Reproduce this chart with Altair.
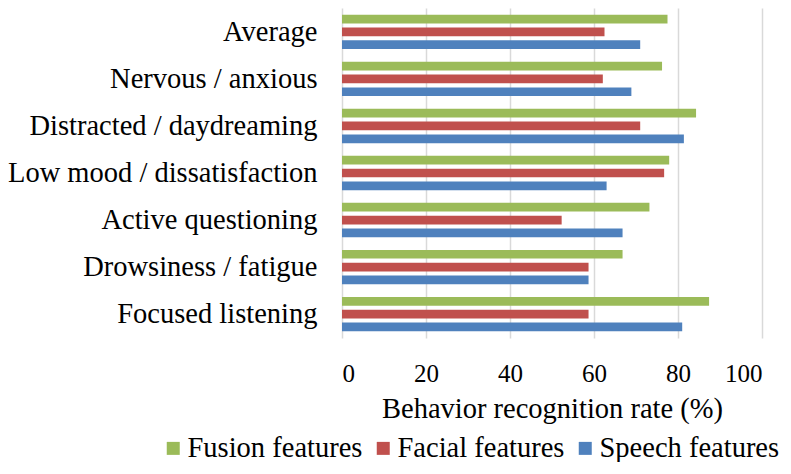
import altair as alt
import pandas as pd

categories = ["Average", "Nervous / anxious", "Distracted / daydreaming",
              "Low mood / dissatisfaction", "Active questioning",
              "Drowsiness / fatigue", "Focused listening"]
series = ["Fusion features", "Facial features", "Speech features"]
fusion = [77.5, 76.2, 84.3, 77.9, 73.2, 66.8, 87.4]
facial = [62.5, 62.1, 71.0, 76.7, 52.3, 58.7, 58.7]
speech = [71.0, 68.9, 81.4, 63.0, 66.8, 58.7, 81.0]
colors = ["#9BBB59", "#C0504D", "#4F81BD"]

rows = []
for name, vals in zip(series, [fusion, facial, speech]):
    for c, v in zip(categories, vals):
        rows.append({"Category": c, "Series": name, "Value": v})
df = pd.DataFrame(rows)

FONT = "Liberation Serif"
FS = 28.5

chart = alt.Chart(df).mark_bar().encode(
    y=alt.Y("Category:N", sort=categories,
            scale=alt.Scale(paddingInner=0.183, paddingOuter=0.1),
            axis=alt.Axis(title=None, labelFont=FONT, labelFontSize=FS,
                          labelColor="#000000", labelPadding=25, ticks=False,
                          domain=False, labelLimit=400)),
    yOffset=alt.YOffset("Series:N", sort=series,
                        scale=alt.Scale(paddingInner=0.32, paddingOuter=0.16)),
    x=alt.X("Value:Q", scale=alt.Scale(domain=[0, 100]),
            axis=alt.Axis(values=[0, 20, 40, 60, 80, 100], title="Behavior recognition rate (%)",
                          titleFont=FONT, titleFontSize=FS, titleFontWeight="normal",
                          titleColor="#000000", titlePadding=8,
                          labelFont=FONT, labelFontSize=25, labelColor="#000000",
                          labelPadding=23, ticks=False, domain=False,
                          grid=True, gridColor="#D9D9D9", gridWidth=1.5)),
    color=alt.Color("Series:N", sort=series,
                    scale=alt.Scale(domain=series, range=colors),
                    legend=alt.Legend(title=None, orient="none", direction="horizontal",
                                      legendX=-183, legendY=426,
                                      symbolType="square", symbolSize=169,
                                      symbolStrokeWidth=0,
                                      labelFont=FONT, labelFontSize=FS,
                                      labelColor="#000000", labelOffset=0,
                                      columnPadding=6, padding=0,
                                      labelLimit=400)),
).properties(
    width=420, height=330,
    autosize=alt.AutoSizeParams(type="none"),
    padding={"left": 334, "top": 0, "right": 21, "bottom": 124}
).configure(font=FONT).configure_view(stroke=None)

chart.save("out.html", embed_options={"renderer": "svg", "actions": False})
